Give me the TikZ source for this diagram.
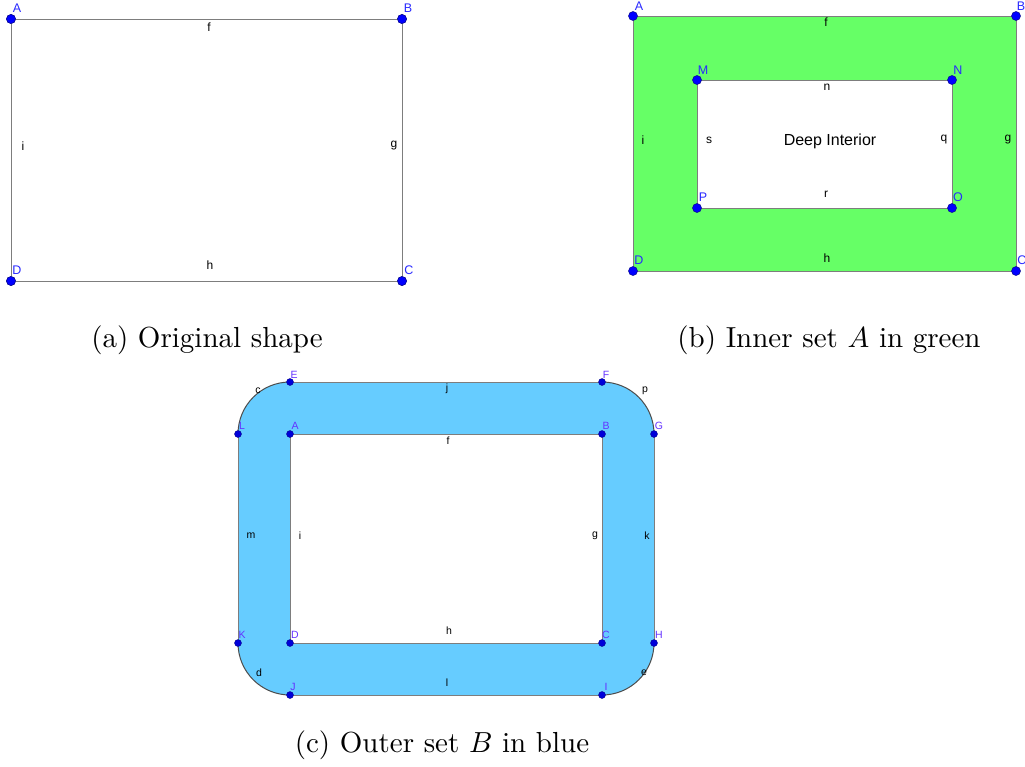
\documentclass[tikz,border=0pt]{standalone}
\usepackage{amsmath, amssymb}
\usepackage{fontspec}
\newfontfamily\ggbfont{Liberation Sans}
\usetikzlibrary{positioning}
\definecolor{ptblue}{RGB}{0,0,255}
\definecolor{ptdark}{RGB}{10,10,140}
\definecolor{lblblue}{RGB}{40,40,255}
\definecolor{lblpurple}{RGB}{100,50,255}
\definecolor{segray}{RGB}{125,125,125}
\definecolor{setgreen}{RGB}{102,255,102}
\definecolor{setblue}{RGB}{102,204,255}

\begin{document}
\begin{tikzpicture}[x=1pt, y=-1pt,
  seg/.style={draw=segray, line width=1pt},
  arcseg/.style={draw=black!70, line width=1pt},
  pt/.style={circle, fill=ptblue, draw=ptdark, line width=0.5pt, inner sep=0pt, minimum size=9pt},
  smallpt/.style={circle, fill=ptblue!85!black, draw=ptdark, line width=0.4pt, inner sep=0pt, minimum size=7pt},
  lbl/.style={text=lblblue, font=\ggbfont\fontsize{12.5}{12.5}\selectfont, inner sep=0pt},
  smalllbl/.style={text=lblpurple, font=\ggbfont\fontsize{10.5}{10.5}\selectfont, inner sep=0pt},
  elbl/.style={font=\ggbfont\fontsize{12}{12}\selectfont, inner sep=0pt},
  smallelbl/.style={font=\ggbfont\fontsize{10.5}{10.5}\selectfont, inner sep=0pt},
  caption/.style={font=\normalsize, inner sep=0pt, scale=2.9},
]
  \useasboundingbox (0,0) rectangle (1025,766);

  % (a) original shape
  \node[pt] (aA) at (11,19) {};
  \node[pt] (aB) at (402,19) {};
  \node[pt] (aC) at (402,281) {};
  \node[pt] (aD) at (11,281) {};
  \draw[seg] (aA.center) -- (aB.center) -- (aC.center) -- (aD.center) -- cycle;
  \foreach \p in {aA,aB,aC,aD} \node[pt] at (\p) {};
  \node[lbl] at (17,8) {A};
  \node[lbl] at (408,8) {B};
  \node[lbl] at (409,270) {C};
  \node[lbl] at (17,270) {D};
  \node[elbl] at (209,27) {f};
  \node[elbl] at (394,146) {g};
  \node[elbl] at (210,265) {h};
  \node[elbl] at (23,146) {i};
  \node[caption] (capa) at (207,340) {(a) Original shape};

  % (b) inner set A
  \coordinate (bA) at (633,16);
  \coordinate (bB) at (1016,16);
  \coordinate (bC) at (1016,271);
  \coordinate (bD) at (633,271);
  \coordinate (bM) at (697,80);
  \coordinate (bN) at (952,80);
  \coordinate (bO) at (952,208);
  \coordinate (bP) at (697,208);
  \fill[setgreen] (bA) -- (bB) -- (bC) -- (bD) -- cycle;
  \fill[white] (bM) -- (bN) -- (bO) -- (bP) -- cycle;
  \draw[seg] (bA) -- (bB) -- (bC) -- (bD) -- cycle;
  \draw[seg] (bM) -- (bN) -- (bO) -- (bP) -- cycle;
  \foreach \p in {bA,bB,bC,bD,bM,bN,bO,bP} \node[pt] at (\p) {};
  \node[lbl] at (639,6) {A};
  \node[lbl] at (1021,6) {B};
  \node[lbl] at (1022,260) {C};
  \node[lbl] at (639,260) {D};
  \node[lbl] at (703,70) {M};
  \node[lbl] at (958,70) {N};
  \node[lbl] at (958,197) {O};
  \node[lbl] at (703,197) {P};
  \node[elbl] at (826,22) {f};
  \node[elbl] at (1008,140) {g};
  \node[elbl] at (827,258) {h};
  \node[elbl] at (643,140) {i};
  \node[elbl] at (827,87) {n};
  \node[elbl] at (944,140) {q};
  \node[elbl] at (826,194) {r};
  \node[elbl] at (709,140) {s};
  \node[font=\ggbfont\fontsize{16}{16}\selectfont, inner sep=0pt] (deep) at (830,141) {Deep Interior};
  \node[caption] (capb) at (829,340) {(b) Inner set $A$ in green};

  % (c) outer set B
  \coordinate (cA) at (290,434);
  \coordinate (cB) at (602,434);
  \coordinate (cC) at (602,643);
  \coordinate (cD) at (290,643);
  \coordinate (cE) at (290,382);
  \coordinate (cF) at (602,382);
  \coordinate (cG) at (654,434);
  \coordinate (cH) at (654,643);
  \coordinate (cI) at (602,695);
  \coordinate (cJ) at (290,695);
  \coordinate (cK) at (238,643);
  \coordinate (cL) at (238,434);
  \fill[setblue] (cE) -- (cF) arc[start angle=-90, end angle=0, radius=52]
    -- (cH) arc[start angle=0, end angle=90, radius=52]
    -- (cJ) arc[start angle=90, end angle=180, radius=52]
    -- (cL) arc[start angle=180, end angle=270, radius=52] -- cycle;
  \fill[white] (cA) -- (cB) -- (cC) -- (cD) -- cycle;
  \draw[seg] (cA) -- (cB) -- (cC) -- (cD) -- cycle;
  \draw[seg] (cE) -- (cF);
  \draw[seg] (cG) -- (cH);
  \draw[seg] (cI) -- (cJ);
  \draw[seg] (cK) -- (cL);
  \draw[arcseg] (cF) arc[start angle=-90, end angle=0, radius=52];
  \draw[arcseg] (cH) arc[start angle=0, end angle=90, radius=52];
  \draw[arcseg] (cJ) arc[start angle=90, end angle=180, radius=52];
  \draw[arcseg] (cL) arc[start angle=180, end angle=270, radius=52];
  \foreach \p in {cA,cB,cC,cD,cE,cF,cG,cH,cI,cJ,cK,cL} \node[smallpt] at (\p) {};
  \node[smalllbl] at (295,426) {A};
  \node[smalllbl] at (606,426) {B};
  \node[smalllbl] at (606,635) {C};
  \node[smalllbl] at (295,635) {D};
  \node[smalllbl] at (294,375) {E};
  \node[smalllbl] at (606,375) {F};
  \node[smalllbl] at (659,426) {G};
  \node[smalllbl] at (659,635) {H};
  \node[smalllbl] at (606,687) {I};
  \node[smalllbl] at (293,687) {J};
  \node[smalllbl] at (242,635) {K};
  \node[smalllbl] at (242,426) {L};
  \node[smallelbl] at (258,391) {c};
  \node[smallelbl] at (447,389) {j};
  \node[smallelbl] at (645,391) {p};
  \node[smallelbl] at (448,441) {f};
  \node[smallelbl] at (251,536) {m};
  \node[smallelbl] at (300,536) {i};
  \node[smallelbl] at (595,536) {g};
  \node[smallelbl] at (647,536) {k};
  \node[smallelbl] at (449,631) {h};
  \node[smallelbl] at (259,673) {d};
  \node[smallelbl] at (447,683) {l};
  \node[smallelbl] at (644,673) {e};
  \node[caption] (capc) at (442,745) {(c) Outer set $B$ in blue};
\end{tikzpicture}
\end{document}
